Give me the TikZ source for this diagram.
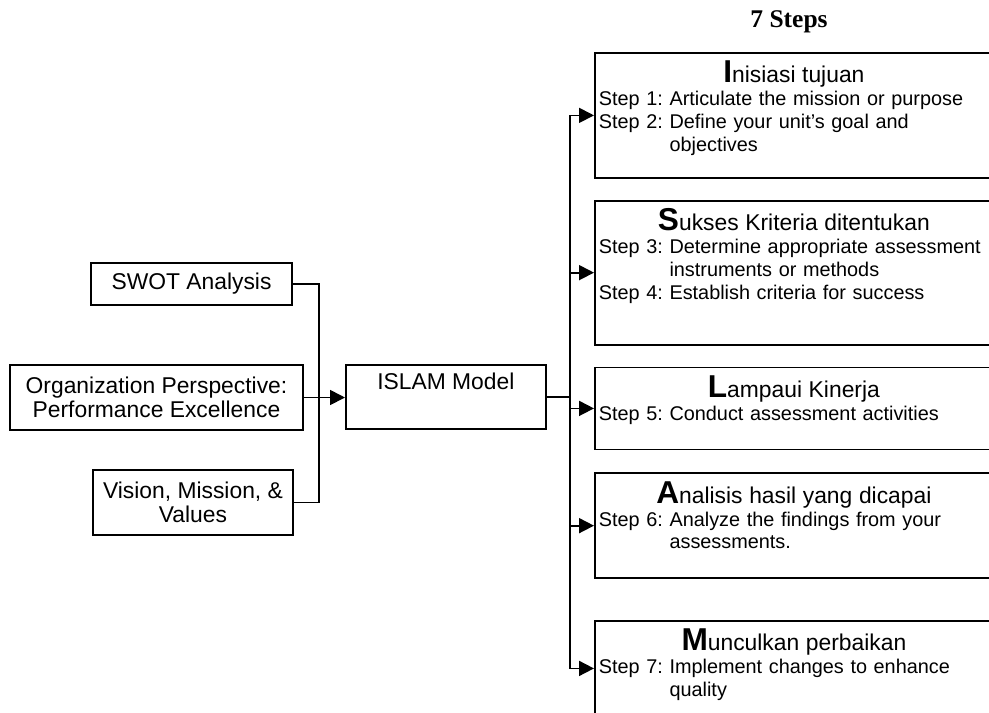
\documentclass[tikz,border=0pt]{standalone}
\usepackage{fontspec}
\setmainfont{Liberation Sans}
\newfontfamily\headfont{Liberation Serif}
\usetikzlibrary{positioning,arrows.meta}
\frenchspacing
\newcommand\bigini[1]{{\fontsize{18}{18}\selectfont\bfseries #1}}
\newcommand\boxtitle[1]{{\centering\fontsize{13}{13}\selectfont #1\par}}
\newcommand\stepcont{\phantom{Step 0: }}
\tikzset{box/.style={draw, line width=1pt, align=center, inner sep=0pt, font=\fontsize{13}{14}\selectfont},
% the stepbox keeps its text at the top, text depth gives the height of the box
stepbox/.style={draw, line width=1pt, anchor=north west, text width=78mm, align=left, inner xsep=0.8mm, inner ysep=0pt, text height=6mm, font=\fontsize{11.3}{13}\selectfont\frenchspacing},
line/.style={-{Triangle[length=3mm,width=3mm]}, line width=1pt}   % filled arrow heads
}

\begin{document}
\begin{tikzpicture}[x=0.2mm,y=-0.2mm]
    \clip (0,0) rectangle (989,712);
    \node[font=\fontsize{14.5}{15}\headfont\bfseries] (head) at (789,22) {7 Steps};
    \node[box,minimum width=40.2mm,minimum height=8.4mm] (swot) at (191.5,284) {SWOT Analysis};
    \node[box,minimum width=58.6mm,minimum height=13mm] (org) at (156.5,397.5) {Organization Perspective:\\Performance Excellence};
    \node[box,minimum width=40mm,minimum height=13mm] (vision) at (193,502.5) {Vision, Mission, \&\\Values};
    \node[box,anchor=north west,minimum width=40mm,text height=5mm,text depth=7.8mm] (islam) at (345,364) {ISLAM Model};
    \node[stepbox,text depth=19mm] (s1) at (594,52) {\boxtitle{\bigini{I}nisiasi tujuan}
      Step 1: Articulate the mission or purpose\\Step 2: Define your unit's goal and\\\stepcont objectives};
    \node[stepbox,text depth=22.8mm,below=4.2mm of s1] (s2) {\boxtitle{\bigini{S}ukses Kriteria ditentukan}
      Step 3: Determine appropriate assessment\\\stepcont instruments or methods\\Step 4: Establish criteria for success};
    \node[stepbox,text depth=10.4mm,below=4.2mm of s2] (s3) {\boxtitle{\bigini{L}ampaui Kinerja}
      Step 5: Conduct assessment activities};
    \node[stepbox,text depth=15mm,below=4.4mm of s3] (s4) {\boxtitle{\bigini{A}nalisis hasil yang dicapai}
      Step 6: Analyze the findings from your\\\stepcont assessments.};
    \node[stepbox,text depth=13mm,below=8.2mm of s4] (s5) {\boxtitle{\bigini{M}unculkan perbaikan}
      Step 7: Implement changes to enhance\\\stepcont quality};
    \coordinate (j) at (319,397.5);
    \path (islam.east) -- ++(23,0) coordinate (k);
    \draw[line width=1pt] (swot.east) -| (j) |- (vision.east);
    \draw[line] (org.east) -- (islam.west |- org.east);
    \draw[line width=1pt] (islam.east) -- (k);
    \foreach \s in {s1,s2,s3,s4,s5}
      \draw[line] (k) |- (\s.west);
  \end{tikzpicture}
\end{document}
